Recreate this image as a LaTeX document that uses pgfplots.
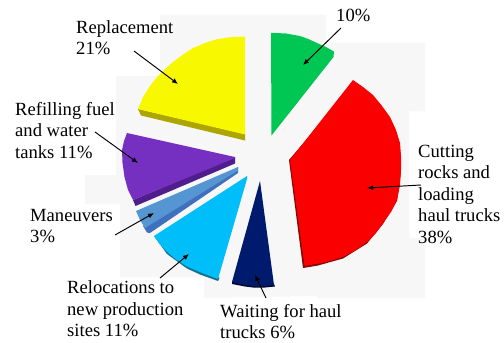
\documentclass[border=0pt]{standalone}
\usepackage{fontspec}
\setmainfont{Liberation Serif}
\usepackage{pgfplots}
\pgfplotsset{compat=1.18}
\usetikzlibrary{arrows.meta}
\definecolor{panel}{HTML}{F7F7F7}
\definecolor{cyellow}{HTML}{F8F800}
\definecolor{syellow}{HTML}{ADA600}
\definecolor{cgreen}{HTML}{00C653}
\definecolor{cred}{HTML}{FB0000}
\definecolor{sred}{HTML}{7E0A0A}
\definecolor{cpurple}{HTML}{7530C2}
\definecolor{spurple}{HTML}{501E8C}
\definecolor{csteel}{HTML}{5596D2}
\definecolor{ssteel}{HTML}{3F70BE}
\definecolor{ccyan}{HTML}{00BEFA}
\definecolor{scyan}{HTML}{14708F}
\definecolor{cnavy}{HTML}{001A6E}
\definecolor{snavy}{HTML}{000A30}
\newcommand{\lbl}[3]{\node[anchor=base west,inner sep=0pt,text=black] at (axis cs:#1,#2) {\fontsize{18.6bp}{21bp}\selectfont #3};}
\begin{document}
\begin{tikzpicture}
\begin{axis}[
  width=504bp, height=343bp, scale only axis,
  xmin=0, xmax=504, ymin=0, ymax=343, y dir=reverse,
  hide axis, clip=false,
]
% page and backing panel
\addplot[fill=white, draw=none] coordinates {(0,0)(504,0)(504,343)(0,343)} -- cycle;
\addplot[fill=panel, draw=none] coordinates {
  (160,15)(326,15)(326,43)(425,43)(425,111)(409,111)(409,238)(425,238)(425,298)
  (317,298)(317,296)(204,298)(204,277)(120,277)(120,204)(85,204)(85,175)(116,175)(116,76)(160,76)} -- cycle;

% Replacement 21%
\addplot[fill=syellow, draw=none] coordinates {(138,109)(141,115.5)(245,140.5)(245,134)} -- cycle;
\addplot[fill=cyellow, draw=none] coordinates {
  (245,36.5)(231,37.2)(217,39.2)(205,43)(193,48)(183,54.5)(173,62)(164,70)(157,77)
  (150,86)(143,97)(138,109)(245,134.5)} -- cycle;

% 10%
\addplot[fill=cgreen, draw=none] coordinates {
  (271,32.8)(286,33.5)(300,36)(309,39.3)(317,43)(326,47)(334,51.5)(333.5,57)(271.5,135.5)} -- cycle;

% Cutting rocks and loading haul trucks 38%
\addplot[fill=sred, draw=none] coordinates {
  (289,160)(303,268)(318,265.5)(343,258.5)(367,243.5)(383,224)(397,201)(401,172)(400,150)(353,85)} -- cycle;
\addplot[fill=cred, draw=none] coordinates {
  (353,80)(363,87)(373,95)(382,106)(390,117)(396,130)(400,143)(401,156)(401,170)(400,185)(397,200)
  (391,212)(383,223)(376,233)(367,242)(356,250)(343,257)(325,262.5)(304.5,266)(290,160)} -- cycle;

% Refilling fuel and water tanks 11%
\addplot[fill=spurple, draw=none] coordinates {(133,200)(135.5,206)(235,163.5)(235,157)} -- cycle;
\addplot[fill=cpurple, draw=none] coordinates {
  (127,133)(235,157)(235,158)(133,200)(128,190)(124.5,177)(122.5,163)(122,150)(124,141)} -- cycle;

% Maneuvers 3%
\addplot[fill=ssteel, draw=none] coordinates {(143,226)(147,232.5)(150,233)(238,173)(238,167)} -- cycle;
\addplot[fill=csteel, draw=none] coordinates {(136,211)(238,167)(238,170.5)(145,228)(140,220)} -- cycle;

% Relocations to new production sites 11%
\addplot[fill=scyan, draw=none] coordinates {(154,236)(167,254)(187,268.5)(200,274.5)(218,281)(219.5,278)} -- cycle;
\addplot[fill=ccyan, draw=none] coordinates {
  (247,176)(247,179)(218,279)(202,273)(187,266.5)(176,259.5)(167,252)(160,244.5)(154,236)} -- cycle;

% Waiting for haul trucks 6%
\addplot[fill=snavy, draw=none] coordinates {(232,282)(232,284)(245,286.5)(253,287.5)(265,287.5)(275,286.5)(274,284)} -- cycle;
\addplot[fill=cnavy, draw=none] coordinates {(260,181)(274,285)(263,286)(253,286)(242,284.5)(232,282)} -- cycle;

% leader arrows
\pgfplotsset{leader/.style={black, line width=0.95bp, -{Latex[length=6bp,width=5bp]}}}
\addplot[leader] coordinates {(134,51)(178,84)};
\addplot[leader] coordinates {(341,28)(303,65)};
\addplot[leader] coordinates {(421,185)(367,188)};
\addplot[leader] coordinates {(95,132)(138,163)};
\addplot[leader] coordinates {(115,235)(154,213)};
\addplot[leader] coordinates {(160,278)(189,254)};
\addplot[leader] coordinates {(266,298)(255,275)};

% labels
\lbl{76}{33}{Replacement}
\lbl{76}{54}{21\%}
\lbl{336}{22}{10\%}
\lbl{15}{115}{Refilling fuel}
\lbl{15}{136}{and water}
\lbl{15}{158}{tanks 11\%}
\lbl{30}{221}{Maneuvers}
\lbl{30}{242}{3\%}
\lbl{67}{293}{Relocations to}
\lbl{67}{315}{new production}
\lbl{67}{336}{sites 11\%}
\lbl{220}{317}{Waiting for haul}
\lbl{220}{338}{trucks 6\%}
\lbl{418}{157}{Cutting}
\lbl{418}{178}{rocks and}
\lbl{418}{200}{loading}
\lbl{418}{221}{haul trucks}
\lbl{418}{243}{38\%}
\end{axis}
\end{tikzpicture}
\end{document}
